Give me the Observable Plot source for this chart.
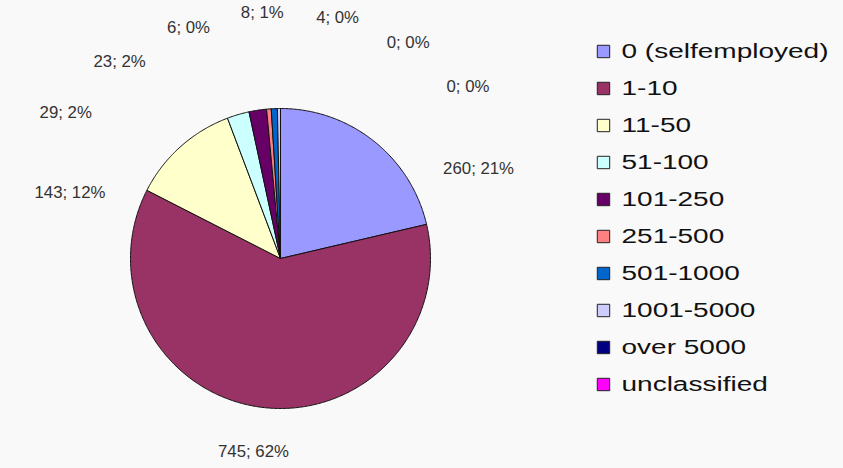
<!DOCTYPE html>
<html><head><meta charset="utf-8">
<script src="https://cdn.jsdelivr.net/npm/d3@7"></script>
<script src="https://cdn.jsdelivr.net/npm/@observablehq/plot@0.6"></script>
<style>
html,body{margin:0;padding:0;background:#f9f9f9;}
#chart{position:relative;width:843px;height:468px;overflow:hidden;background:#f9f9f9;}
#chart svg{position:absolute;top:0;background:transparent;}
</style></head><body><div id="chart"></div>
<script>
// ---- data ----
const categories = ["0 (selfemployed)","1-10","11-50","51-100","101-250","251-500","501-1000","1001-5000","over 5000","unclassified"];
const counts = [260,745,143,29,23,6,8,4,0,0];
const percents = [21,62,12,2,2,0,1,0,0,0];
const colors = ["#9999ff","#993366","#ffffcc","#ccffff","#660066","#ff8080","#0066cc","#ccccff","#000080","#ff00ff"];

// ---- layout ----
const W = 843, H = 468, CX = 280, CY = 258, R = 150;
const LABEL_FONT = 16, LABEL_SX = 1.05, LEGEND_FONT = 20, LEGEND_SX = 1.4;
const FONT = "'Liberation Sans', Arial, sans-serif";

const arcs = d3.pie().sort(null).value(d => d)(counts);

// slice outlines (unit circle, y up, clockwise from 12 o'clock)
const slicePts = [];
arcs.forEach((p, i) => {
  const span = p.endAngle - p.startAngle;
  const n = Math.max(1, Math.ceil(span / (Math.PI / 360)));
  slicePts.push({cat: categories[i], x: 0, y: 0});
  for (let k = 0; k <= n; k++) {
    const a = p.startAngle + span * k / n;
    slicePts.push({cat: categories[i], x: Math.sin(a), y: Math.cos(a)});
  }
  slicePts.push({cat: categories[i], x: 0, y: 0});
});

// label layout: mid-angles spread apart with a minimum angular separation
const mids = arcs.map(p => (p.startAngle + p.endAngle) / 2 * 180 / Math.PI);
const ref = mids[d3.maxIndex(counts)];
const ang = mids.map(a => a < ref ? a + 360 : a);
const order = d3.range(counts.length).sort((a, b) => ang[a] - ang[b] || a - b);
const SEP = 16.6;
let clusters = order.map(i => [i]);
const place = c => { const m = d3.mean(c, i => ang[i]); return c.map((i, k) => m + (k - (c.length - 1) / 2) * SEP); };
let merged = true;
while (merged) {
  merged = false;
  for (let k = 0; k < clusters.length - 1; k++) {
    const a = place(clusters[k]), b = place(clusters[k + 1]);
    if (b[0] - a[a.length - 1] < SEP - 1e-9) {
      clusters.splice(k, 2, clusters[k].concat(clusters[k + 1]));
      merged = true; break;
    }
  }
}
const labelAng = [];
clusters.forEach(c => place(c).forEach((a, k) => labelAng[c[k]] = a));

const ctx = document.createElement("canvas").getContext("2d");
ctx.font = `${LABEL_FONT}px ${FONT}`;
const labels = counts.map((v, i) => {
  const text = `${v}; ${percents[i]}%`;
  const t = labelAng[i] * Math.PI / 180;
  const pr = (percents[i] >= 5 ? 188 : 240) / R;
  const w = ctx.measureText(text).width * LABEL_SX, h = 13;
  const ux = Math.sin(t), uy = Math.cos(t);
  return {text, x: pr * ux + ux * w / 2 / R, y: pr * uy + uy * h / 2 / R};
});

const chart = document.getElementById("chart");

const main = Plot.plot({
  width: W, height: H, margin: 0,
  x: {domain: [-CX / R, (W - CX) / R], range: [0, W], axis: null},
  y: {domain: [-(H - CY) / R, CY / R], range: [H, 0], axis: null},
  color: {domain: categories, range: colors},
  style: {background: "transparent", overflow: "visible"},
  marks: [
    Plot.line(slicePts, {x: "x", y: "y", z: "cat", fill: "cat", stroke: "#111", strokeWidth: 1, strokeLinejoin: "round", curve: "linear"}),
    Plot.text(labels, {x: "x", y: "y", text: "text", fill: "#333", fontSize: LABEL_FONT, fontFamily: FONT, textAnchor: "middle", lineAnchor: "middle"})
  ]
});
main.style.left = "0px";

const legend = Plot.plot({
  width: 247, height: H, marginLeft: 0, marginRight: 0, marginTop: 50, marginBottom: 84,
  y: {type: "point", domain: categories, axis: null, padding: 0},
  color: {domain: categories, range: colors},
  style: {background: "transparent", overflow: "visible"},
  marks: [
    Plot.dot(categories, {y: d => d, fill: d => d, symbol: "square", r: 7, stroke: "#222", strokeWidth: 1, frameAnchor: "left", dx: 7}),
    Plot.text(categories, {y: d => d, text: d => d, frameAnchor: "left", dx: 25, textAnchor: "start", fontSize: LEGEND_FONT, fill: "#111", fontFamily: FONT})
  ]
});
legend.style.left = "596px";

function stretch(svg, sx) {
  svg.querySelectorAll("text").forEach(t => {
    const tr = t.getAttribute("transform");
    if (tr) t.setAttribute("transform", tr + ` scale(${sx},1)`);
    else {
      const x = +t.getAttribute("x") || 0, y = +t.getAttribute("y") || 0;
      t.removeAttribute("x"); t.removeAttribute("y");
      t.setAttribute("transform", `translate(${x},${y}) scale(${sx},1)`);
    }
  });
}
stretch(main, LABEL_SX);
stretch(legend, LEGEND_SX);

chart.appendChild(main);
chart.appendChild(legend);
</script></body></html>
